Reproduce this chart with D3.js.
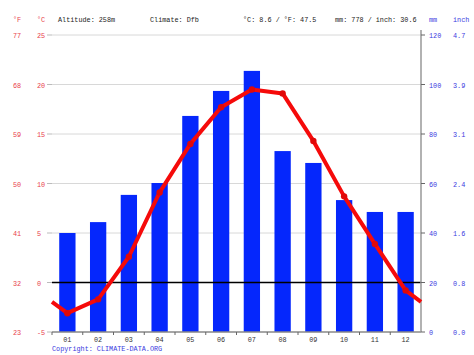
<!DOCTYPE html>
<html><head><meta charset="utf-8">
<script src="https://cdn.jsdelivr.net/npm/d3@7"></script>
<style>body{margin:0;background:#fff}svg{display:block}</style>
</head><body>
<svg id="c" width="474" height="355"></svg>
<script>
const months = ["01","02","03","04","05","06","07","08","09","10","11","12"];
const precipMm = [40, 44.4, 55.4, 60.2, 87.3, 97.4, 105.5, 73.1, 68.3, 53.3, 48.5, 48.5];
const tempC = [-3.1, -1.7, 2.6, 9.1, 14.0, 17.7, 19.5, 19.1, 14.3, 8.7, 3.9, -0.8];
const cTicks = [-5, 0, 5, 10, 15, 20, 25];
const fLabels = ["23","32","41","50","59","68","77"];
const mmTicks = [0, 20, 40, 60, 80, 100, 120];
const inchLabels = ["0.0","0.8","1.6","2.4","3.1","3.9","4.7"];
const headerTexts = ["Altitude: 258m", "Climate: Dfb", "°C: 8.6 / °F: 47.5", "mm: 778 / inch: 30.6"];

const svg = d3.select("#c");
const L = 52, R = 421, T = 35, B = 332;
const font = "'Liberation Mono', 'DejaVu Sans Mono', monospace";
const fs = 6.8;
const redTxt = "#e8414a", blueTxt = "#3a3ae0";

const x = d3.scaleBand().domain(months).range([L, R]).paddingInner(0.47).paddingOuter(0.235);
const xStep = d3.scaleBand().domain(months).range([L, R]);
const yT = d3.scaleLinear().domain([-5, 25]).range([B, T]);
const yP = d3.scaleLinear().domain([0, 120]).range([B, T]);

// grid lines
svg.append("g").selectAll("line").data(cTicks.filter(d => d !== 0 && d !== -5)).join("line")
  .attr("x1", L).attr("x2", R).attr("y1", d => yT(d)).attr("y2", d => yT(d))
  .attr("stroke", "#d8d8d8").attr("stroke-width", 1);

// left tick marks
svg.append("g").selectAll("line").data(cTicks).join("line")
  .attr("x1", L - 5).attr("x2", L).attr("y1", d => yT(d)).attr("y2", d => yT(d))
  .attr("stroke", "#bbb");

// bars
svg.append("g").selectAll("rect").data(precipMm).join("rect")
  .attr("x", (d, i) => x(months[i])).attr("width", x.bandwidth())
  .attr("y", d => yP(d)).attr("height", d => B - yP(d))
  .attr("fill", "#0527fc");

// zero line
svg.append("line").attr("x1", L).attr("x2", R).attr("y1", yT(0)).attr("y2", yT(0))
  .attr("stroke", "#000").attr("stroke-width", 1.3);

// bottom axis
svg.append("line").attr("x1", L).attr("x2", R).attr("y1", B).attr("y2", B).attr("stroke", "#888").attr("stroke-width", 1.5);
svg.append("g").selectAll("line").data(months).join("line")
  .attr("x1", d => xStep(d)).attr("x2", d => xStep(d)).attr("y1", B).attr("y2", B + 3)
  .attr("stroke", "#666");
svg.append("g").selectAll("text").data(months).join("text")
  .attr("x", d => xStep(d) + xStep.bandwidth() / 2).attr("y", B + 10)
  .attr("text-anchor", "middle").attr("font-family", font).attr("font-size", fs).attr("fill", "#333").text(d => d);

// right axis
svg.append("line").attr("x1", R).attr("x2", R).attr("y1", T - 5).attr("y2", B).attr("stroke", "#999").attr("stroke-width", 1.5);
svg.append("g").selectAll("line").data(mmTicks).join("line")
  .attr("x1", R).attr("x2", R + 4).attr("y1", d => yP(d)).attr("y2", d => yP(d)).attr("stroke", "#666");
svg.append("g").selectAll("text").data(mmTicks).join("text")
  .attr("x", R + 8).attr("y", d => yP(d) + 3).attr("font-family", font).attr("font-size", fs)
  .attr("fill", blueTxt).text(d => d);
svg.append("g").selectAll("text").data(inchLabels).join("text")
  .attr("x", 453).attr("y", (d, i) => yP(mmTicks[i]) + 3).attr("font-family", font).attr("font-size", fs)
  .attr("fill", blueTxt).text(d => d);

// left labels
svg.append("g").selectAll("text").data(cTicks).join("text")
  .attr("x", 37).attr("y", d => yT(d) + 3).attr("font-family", font).attr("font-size", fs)
  .attr("fill", redTxt).text(d => d);
svg.append("g").selectAll("text").data(fLabels).join("text")
  .attr("x", 13).attr("y", (d, i) => yT(cTicks[i]) + 3).attr("font-family", font).attr("font-size", fs)
  .attr("fill", redTxt).text(d => d);

// temperature line (edges = mean of Dec/Jan)
const edge = (tempC[0] + tempC[11]) / 2;
const pts = [[L, yT(edge)]].concat(tempC.map((d, i) => [xStep(months[i]) + xStep.bandwidth() / 2, yT(d)])).concat([[R, yT(edge)]]);
svg.append("path").attr("d", d3.line()(pts)).attr("fill", "none").attr("stroke", "#f50a0a")
  .attr("stroke-width", 4).attr("stroke-linejoin", "round");
svg.append("g").selectAll("circle").data(tempC).join("circle")
  .attr("cx", (d, i) => xStep(months[i]) + xStep.bandwidth() / 2).attr("cy", d => yT(d)).attr("r", 3.2)
  .attr("fill", "#e00808");

// header
svg.append("text").attr("x", 13).attr("y", 22).attr("font-family", font).attr("font-size", fs).attr("fill", redTxt).text("°F");
svg.append("text").attr("x", 37).attr("y", 22).attr("font-family", font).attr("font-size", fs).attr("fill", redTxt).text("°C");
const hx = [58, 150, 243, 335];
svg.append("g").selectAll("text").data(headerTexts).join("text")
  .attr("x", (d, i) => hx[i]).attr("y", 22).attr("font-family", font).attr("font-size", fs).attr("fill", "#222").text(d => d);
svg.append("text").attr("x", 429).attr("y", 22).attr("font-family", font).attr("font-size", fs).attr("fill", blueTxt).text("mm");
svg.append("text").attr("x", 453).attr("y", 22).attr("font-family", font).attr("font-size", fs).attr("fill", blueTxt).text("inch");

// copyright
svg.append("text").attr("x", 52).attr("y", 351).attr("font-family", font).attr("font-size", fs).attr("fill", blueTxt).text("Copyright: CLIMATE-DATA.ORG");
</script>
</body></html>
